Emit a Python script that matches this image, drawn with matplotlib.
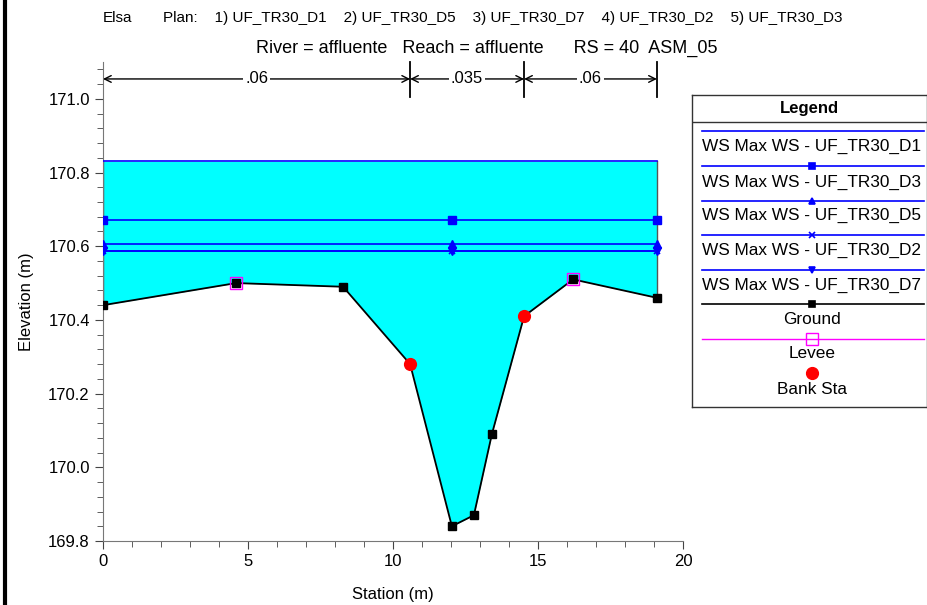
import matplotlib.pyplot as plt
import numpy as np
from matplotlib.lines import Line2D

# ground profile (station, elevation)
ground_x = [0.0, 4.59, 8.28, 10.59, 12.03, 12.79, 13.41, 14.52, 16.21, 19.10]
ground_y = [170.44, 170.50, 170.49, 170.28, 169.84, 169.87, 170.09, 170.41, 170.51, 170.46]

levee_x = [4.59, 16.21]
levee_y = [170.50, 170.51]

bank_x = [10.59, 14.52]
bank_y = [170.28, 170.41]

# water surfaces per plan
ws_x = [0.0, 12.03, 19.10]
ws_d1 = 170.83
ws_d3 = 170.672
ws_d5 = 170.605
ws_d2 = 170.588
ws_d7 = 170.586

# manning n breaks
n_breaks = [0.0, 10.59, 14.52, 19.10]
n_values = ['.06', '.035', '.06']

FONT = ['Liberation Sans Narrow', 'Liberation Sans', 'DejaVu Sans']
FONT_REG = ['Liberation Sans', 'DejaVu Sans']
BLUE = '#0000ff'

fig = plt.figure(figsize=(9.28, 6.05), dpi=100)
ax = fig.add_axes([103 / 928, 64 / 605, 580 / 928, 479 / 605])

gx = np.array(ground_x)
gy = np.array(ground_y)
ax.fill_between(gx, gy, ws_d1, where=gy <= ws_d1, color='#00ffff', lw=0, zorder=1)
ax.plot([gx[0], gx[0]], [gy[0], ws_d1], color='#555555', lw=1, zorder=2)
ax.plot([gx[-1], gx[-1]], [gy[-1], ws_d1], color='#555555', lw=1, zorder=2)

ax.plot([ws_x[0], ws_x[-1]], [ws_d1, ws_d1], color=BLUE, lw=1.2, zorder=3)
ax.plot(ws_x, [ws_d3] * 3, color=BLUE, lw=1.2, marker='s', ms=5.5, zorder=3)
ax.plot(ws_x, [ws_d5] * 3, color=BLUE, lw=1.2, marker='^', ms=5.5, zorder=3)
ax.plot(ws_x, [ws_d2] * 3, color=BLUE, lw=1.2, marker='x', ms=5, mew=1.2, zorder=3)
ax.plot(ws_x, [ws_d7] * 3, color=BLUE, lw=1.2, marker='v', ms=5.5, zorder=3)

ax.plot(ground_x, ground_y, color='black', lw=1.3, marker='s', ms=5.5, zorder=4)
ax.plot(levee_x, levee_y, ls='none', marker='s', ms=8.5, mfc='none', mec='#ff00ff', mew=1.0, zorder=5)
ax.plot(bank_x, bank_y, ls='none', marker='o', ms=8.5, color='red', zorder=6)

# n values on top
n_y = 171.054
for i in range(len(n_values)):
    x0, x1 = n_breaks[i], n_breaks[i + 1]
    ax.annotate('', xy=(x0, n_y), xytext=(x1, n_y),
                arrowprops=dict(arrowstyle='<->', color='black', lw=1, shrinkA=0, shrinkB=0,
                                mutation_scale=12))
    ax.text((x0 + x1) / 2, n_y, n_values[i], ha='center', va='center', fontsize=12,
            family=FONT_REG, bbox=dict(fc='white', ec='none', pad=1.5), zorder=7)
for xb in n_breaks[1:]:
    ax.plot([xb, xb], [171.1, 171.005], color='black', lw=1.3, clip_on=False)

ax.set_xlim(0, 20)
ax.set_ylim(169.8, 171.1)
ax.set_xticks([0, 5, 10, 15, 20])
ax.set_xticks(np.arange(0, 21, 1), minor=True)
ax.set_yticks([169.8, 170.0, 170.2, 170.4, 170.6, 170.8, 171.0])
ax.set_yticks(np.arange(169.8, 171.1, 0.04), minor=True)
ax.yaxis.set_major_formatter(plt.FormatStrFormatter('%.1f'))
for s in ['top', 'right']:
    ax.spines[s].set_visible(False)
ax.spines['left'].set_color('#777777')
ax.spines['bottom'].set_color('#777777')
ax.tick_params(which='both', direction='out', color='#444444', labelsize=12)
ax.tick_params(which='major', length=6)
ax.tick_params(which='minor', length=4)
for lab in ax.get_xticklabels() + ax.get_yticklabels():
    lab.set_family(FONT)
ax.set_xlabel('Station (m)', fontsize=12, family=FONT, labelpad=13)
ax.set_ylabel('Elevation (m)', fontsize=12, family=FONT, labelpad=10)

# header
fig.text(103 / 928, 1 - 18 / 605, 'Elsa', fontsize=11, family=FONT, va='center')
fig.text(163 / 928, 1 - 18 / 605,
         'Plan:    1) UF_TR30_D1    2) UF_TR30_D5    3) UF_TR30_D7    4) UF_TR30_D2    5) UF_TR30_D3',
         fontsize=11, family=FONT, va='center')
fig.text(487 / 928, 1 - 48 / 605,
         'River = affluente   Reach = affluente      RS = 40  ASM_05',
         fontsize=13, family=FONT, va='center', ha='center')

# left window border
fig.add_artist(Line2D([5 / 928, 5 / 928], [0, 1], color='black', lw=3))

# legend box
lg = fig.add_axes([692 / 928, 1 - 407 / 605, 235 / 928, 312 / 605])
lg.set_xlim(0, 235)
lg.set_ylim(312, 0)
lg.set_xticks([])
lg.set_yticks([])
for s in lg.spines.values():
    s.set_color('#333333')
    s.set_linewidth(1)
lg.plot([0, 235], [27, 27], color='#333333', lw=1)
lg.text(117, 13, 'Legend', ha='center', va='center', fontsize=12, weight='bold', family=FONT_REG)
entries = [
    ('WS Max WS - UF_TR30_D1', BLUE, None, 36, 51),
    ('WS Max WS - UF_TR30_D3', BLUE, 's', 71, 87),
    ('WS Max WS - UF_TR30_D5', BLUE, '^', 106, 120),
    ('WS Max WS - UF_TR30_D2', BLUE, 'x', 140, 155),
    ('WS Max WS - UF_TR30_D7', BLUE, 'v', 175, 190),
    ('Ground', 'black', 's', 209, 225),
]
for label, col, mk, ly, ty in entries:
    lg.plot([10, 232], [ly, ly], color=col, lw=1.2)
    if mk is not None:
        lg.plot([120], [ly], color=col, marker=mk, ms=5, mew=1.2)
    lg.text(120, ty, label, ha='center', va='center', fontsize=12.4, family=FONT_REG)
lg.plot([10, 232], [244, 244], color='#ff00ff', lw=1)
lg.plot([120], [244], marker='s', ms=8.5, mfc='none', mec='#ff00ff', mew=1)
lg.text(120, 259, 'Levee', ha='center', va='center', fontsize=12.4, family=FONT_REG)
lg.plot([120], [278], marker='o', ms=8.5, color='red', ls='none')
lg.text(120, 294, 'Bank Sta', ha='center', va='center', fontsize=12.4, family=FONT_REG)

fig.savefig('out.png', dpi=100)
